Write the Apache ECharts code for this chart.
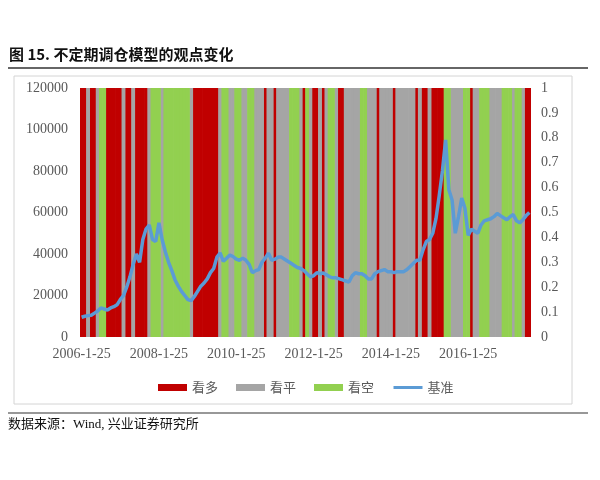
<!DOCTYPE html>
<html>
<head>
<meta charset="utf-8">
<script src="https://cdn.jsdelivr.net/npm/echarts@6/dist/echarts.min.js"></script>
<style>
  html, body { margin: 0; padding: 0; background: #ffffff; }
  #chart { width: 600px; height: 480px; }
</style>
</head>
<body>
<div id="chart"></div>
<script>
// ---- Data ----
const startYear = 2006;
const monthCount = 140; // 2006-1 .. 2017-8
const categories = [];
for (let i = 0; i < monthCount; i++) {
  const y = startYear + Math.floor(i / 12);
  const m = (i % 12) + 1;
  categories.push(y + '-' + m + '-25');
}

// view per month: D = 看多, P = 看平, K = 看空
const viewStates = [
  'D','D','P','D','D','P','K','K','D','D',
  'D','D','D','P','D','D','P','D','D','D',
  'D','P','K','K','K','P','K','K','K','K',
  'K','K','K','K','P','D','D','D','D','D',
  'D','D','D','P','K','K','P','P','K','K',
  'P','P','K','K','P','P','P','D','P','P',
  'D','P','P','P','P','K','K','K','P','D',
  'K','P','D','D','P','D','P','K','K','P',
  'D','D','P','P','P','P','P','K','K','P',
  'P','P','D','P','P','P','P','D','P','P',
  'P','P','P','P','D','P','D','D','P','D',
  'D','D','D','K','K','P','P','P','P','K',
  'K','D','P','P','K','K','K','P','P','P',
  'P','K','K','K','P','K','K','P','D','D'
];

const benchmark = [
  9500,10000,10300,10500,11500,12500,14000,13500,13000,14000,
  14600,15500,18000,20000,24000,29000,35000,40000,36000,47000,
  52000,54000,47000,46000,55000,47000,41000,36000,32000,27500,
  24500,22000,20000,18000,17500,19500,22000,24500,26000,28000,
  31000,33000,38500,40500,36500,38000,39500,38800,37500,37000,
  38000,37000,35000,31000,32000,32500,36000,38000,40400,37000,
  37500,38500,38500,37500,36500,35500,34500,33500,33000,32000,
  30500,29000,29500,31000,30500,30800,30000,29000,28500,28500,
  28000,27500,27000,26500,29500,31000,30500,30500,29500,28000,
  28000,30500,31500,32000,32500,31500,31500,31000,31500,31500,
  31500,32500,34000,35500,37000,37000,42000,46000,47000,50000,
  57000,68000,80000,95000,71000,66000,50000,58000,67000,62000,
  49000,52000,51000,50000,54000,56000,56500,57000,58000,59500,
  58500,57500,56500,58000,59000,56000,55000,56500,58500,60000
];

const seriesNames = ['看多', '看平', '看空', '基准'];
const stateCodes = ['D', 'P', 'K'];
const colors = ['#C00000', '#A5A5A5', '#92D050', '#5B9BD5'];

// ---- Build ----
const barSeries = stateCodes.map((code, idx) => ({
  name: seriesNames[idx],
  type: 'bar',
  yAxisIndex: 1,
  barWidth: 3.9,
  barGap: '-100%',
  itemStyle: { color: colors[idx] },
  emphasis: { disabled: true },
  data: viewStates.map(s => (s === code ? 1 : '-')),
  z: 1
}));

const chart = echarts.init(document.getElementById('chart'), null, { renderer: 'canvas' });
const axisFont = { fontFamily: '"Liberation Serif", "Times New Roman", serif', fontSize: 14, color: '#595959' };

chart.setOption({
  backgroundColor: '#ffffff',
  animation: false,
  graphic: [
    { type: 'text', left: 9, top: 47, style: { text: '图 15. 不定期调仓模型的观点变化', font: 'bold 15px "Noto Sans CJK SC", sans-serif', fill: '#111' } },
    { type: 'line', shape: { x1: 8, y1: 68, x2: 588, y2: 68 }, style: { stroke: '#333', lineWidth: 1.5 } },
    { type: 'rect', shape: { x: 14, y: 76, width: 558, height: 328 }, style: { fill: null, stroke: '#d4d4d4', lineWidth: 1 } },
    { type: 'line', shape: { x1: 8, y1: 413, x2: 588, y2: 413 }, style: { stroke: '#333', lineWidth: 1.2 } },
    { type: 'text', left: 8, top: 418, style: { text: '数据来源：Wind, 兴业证券研究所', font: '13px "Liberation Serif", "Noto Sans CJK SC", serif', fill: '#111' } }
  ],
  legend: {
    left: 153,
    top: 376,
    itemWidth: 29,
    itemHeight: 7,
    itemGap: 18,
    textStyle: { fontFamily: '"Noto Sans CJK SC", sans-serif', fontSize: 13, color: '#595959' },
    data: [
      { name: '看多', icon: 'rect' },
      { name: '看平', icon: 'rect' },
      { name: '看空', icon: 'rect' },
      { name: '基准', itemStyle: { opacity: 0 }, lineStyle: { width: 3 } }
    ]
  },
  grid: { left: 80, right: 69, top: 88, bottom: 143, containLabel: false },
  xAxis: {
    type: 'category',
    data: categories,
    boundaryGap: true,
    axisLine: { show: false },
    axisTick: { show: false },
    axisLabel: Object.assign({ interval: 23, margin: 10 }, axisFont),
    splitLine: { show: false }
  },
  yAxis: [
    {
      type: 'value', min: 0, max: 120000, interval: 20000, position: 'left',
      axisLine: { show: false }, axisTick: { show: false }, splitLine: { show: false },
      axisLabel: Object.assign({ margin: 12, formatter: v => String(v) }, axisFont)
    },
    {
      type: 'value', min: 0, max: 1, interval: 0.1, position: 'right',
      axisLine: { show: false }, axisTick: { show: false }, splitLine: { show: false },
      axisLabel: Object.assign({ margin: 10, formatter: v => String(Math.round(v * 10) / 10) }, axisFont)
    }
  ],
  series: barSeries.concat([{
    name: seriesNames[3],
    type: 'line',
    yAxisIndex: 0,
    data: benchmark,
    symbol: 'none',
    lineStyle: { color: colors[3], width: 3.5 },
    itemStyle: { color: colors[3] },
    z: 5
  }])
});
</script>
</body>
</html>
